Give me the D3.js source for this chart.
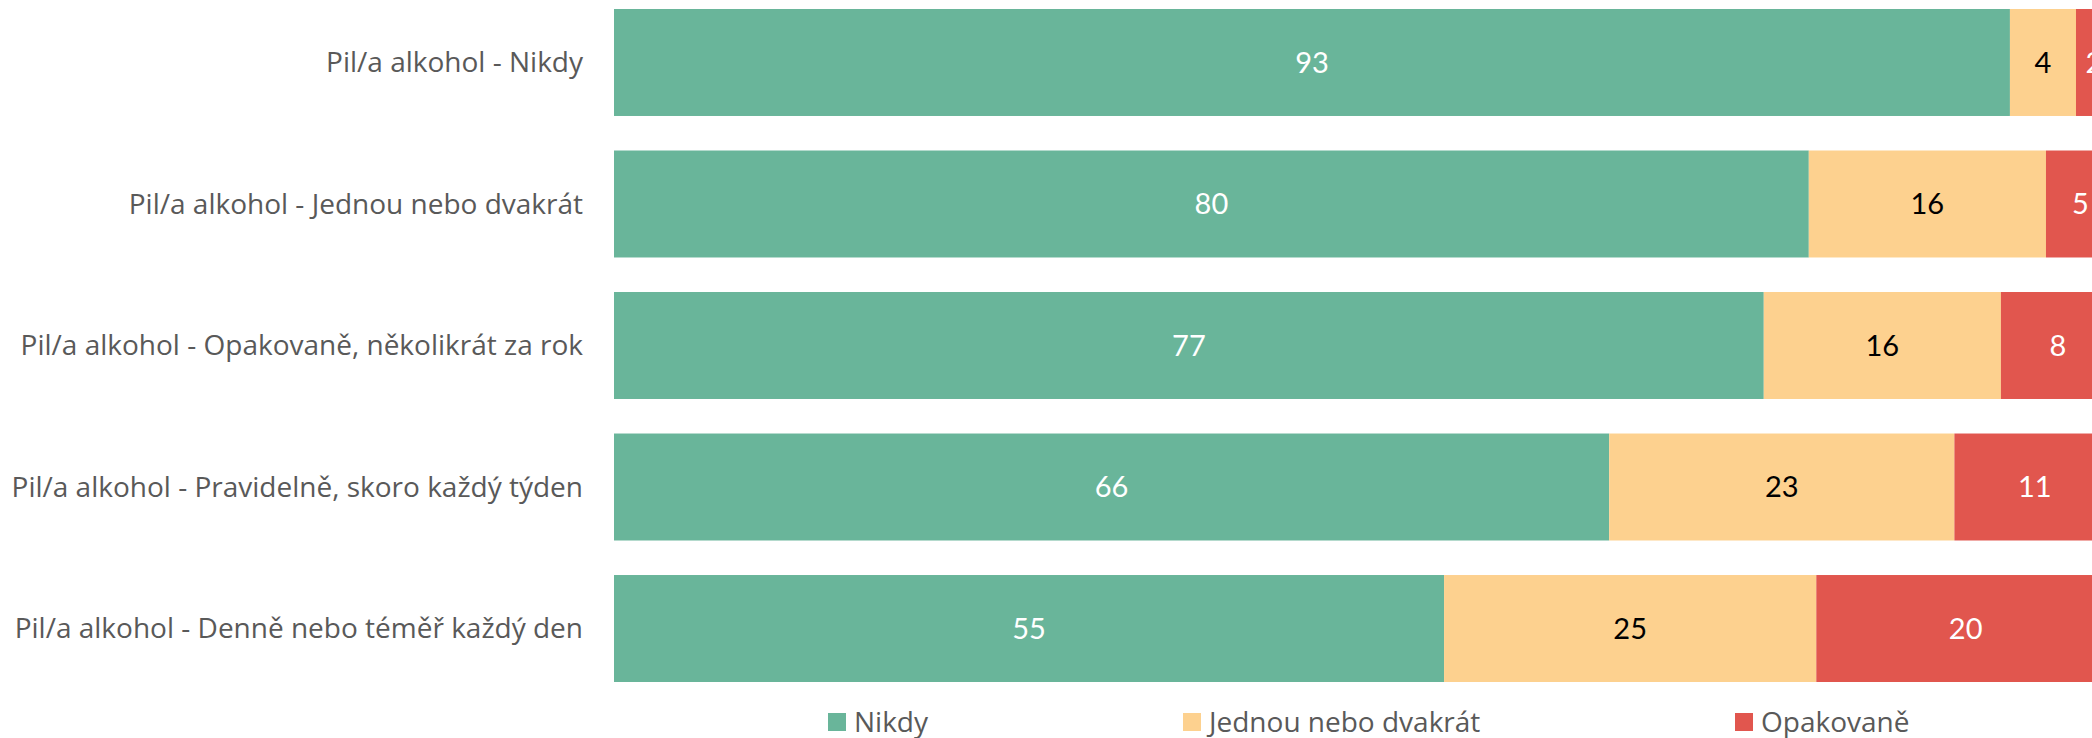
<!DOCTYPE html>
<html>
<head>
<meta charset="utf-8">
<script src="https://cdn.jsdelivr.net/npm/d3@7"></script>
<style>
  body { margin: 0; background: #fff; }
  svg { display: block; }
</style>
</head>
<body>
<div id="chart"></div>
<script>
// Categories (rows) and series shares in percent
const categories = [
  "Pil/a alkohol - Nikdy",
  "Pil/a alkohol - Jednou nebo dvakrát",
  "Pil/a alkohol - Opakovaně, několikrát za rok",
  "Pil/a alkohol - Pravidelně, skoro každý týden",
  "Pil/a alkohol - Denně nebo téměř každý den"
];
const seriesNames = ["Nikdy", "Jednou nebo dvakrát", "Opakovaně"];
const nikdy = [93.0, 79.6, 76.6, 66.3, 55.3];
const jednou = [4.4, 15.8, 15.8, 23.0, 24.8];
const opakovane = [2.4, 4.6, 7.6, 10.7, 19.9];

const colors = ["#69b59a", "#fdd18f", "#e1564e"];
const labelColors = ["#ffffff", "#000000", "#ffffff"];

const W = 2092, H = 738;
const svg = d3.select("#chart")
  .append("svg")
  .attr("width", W)
  .attr("height", H);

// x: percent -> pixels (the plot runs past the right edge, as in the reference)
const x = d3.scaleLinear()
  .domain([0, 100])
  .range([614, 2115]);

const y = d3.scaleBand()
  .domain(categories)
  .range([9, 682])
  .paddingInner(0.244)
  .paddingOuter(0);

// stack the series
const rows = categories.map((c, i) => ({cat: c, Nikdy: nikdy[i], "Jednou nebo dvakrát": jednou[i], "Opakovaně": opakovane[i]}));
const stacked = d3.stack().keys(seriesNames)(rows);

stacked.forEach((s, si) => {
  // bars
  svg.selectAll("rect.s" + si)
    .data(s)
    .enter()
    .append("rect")
    .attr("class", "s" + si)
    .attr("x", d => x(d[0]))
    .attr("y", d => y(d.data.cat))
    .attr("width", d => x(d[1]) - x(d[0]))
    .attr("height", y.bandwidth())
    .attr("fill", colors[si]);

  // value labels
  svg.selectAll("text.val" + si)
    .data(s)
    .enter()
    .append("text")
    .attr("class", "val" + si)
    .attr("x", d => (x(d[0]) + x(d[1])) / 2)
    .attr("y", d => y(d.data.cat) + y.bandwidth() / 2)
    .attr("dy", "0.35em")
    .attr("text-anchor", "middle")
    .attr("font-family", "Lato, 'Open Sans', sans-serif")
    .attr("font-size", 29)
    .attr("fill", labelColors[si])
    .text(d => Math.round(d[1] - d[0]));
});

// category labels
svg.selectAll("text.cat")
  .data(categories)
  .enter()
  .append("text")
  .attr("class", "cat")
  .attr("x", 583)
  .attr("y", d => y(d) + y.bandwidth() / 2)
  .attr("dy", "0.35em")
  .attr("text-anchor", "end")
  .attr("font-family", "'Open Sans', sans-serif")
  .attr("font-size", 28)
  .attr("fill", "#595959")
  .text(d => d);

// legend
const legendX = [828, 1183, 1735];
const legend = svg.selectAll("g.legend")
  .data(seriesNames)
  .enter()
  .append("g")
  .attr("class", "legend")
  .attr("transform", (d, i) => "translate(" + legendX[i] + ",713)");

legend.append("rect")
  .attr("width", 18)
  .attr("height", 18)
  .attr("fill", (d, i) => colors[i]);

legend.append("text")
  .attr("x", 26)
  .attr("y", 9)
  .attr("dy", "0.35em")
  .attr("font-family", "'Open Sans', sans-serif")
  .attr("font-size", 28)
  .attr("fill", "#595959")
  .text(d => d);
</script>
</body>
</html>
